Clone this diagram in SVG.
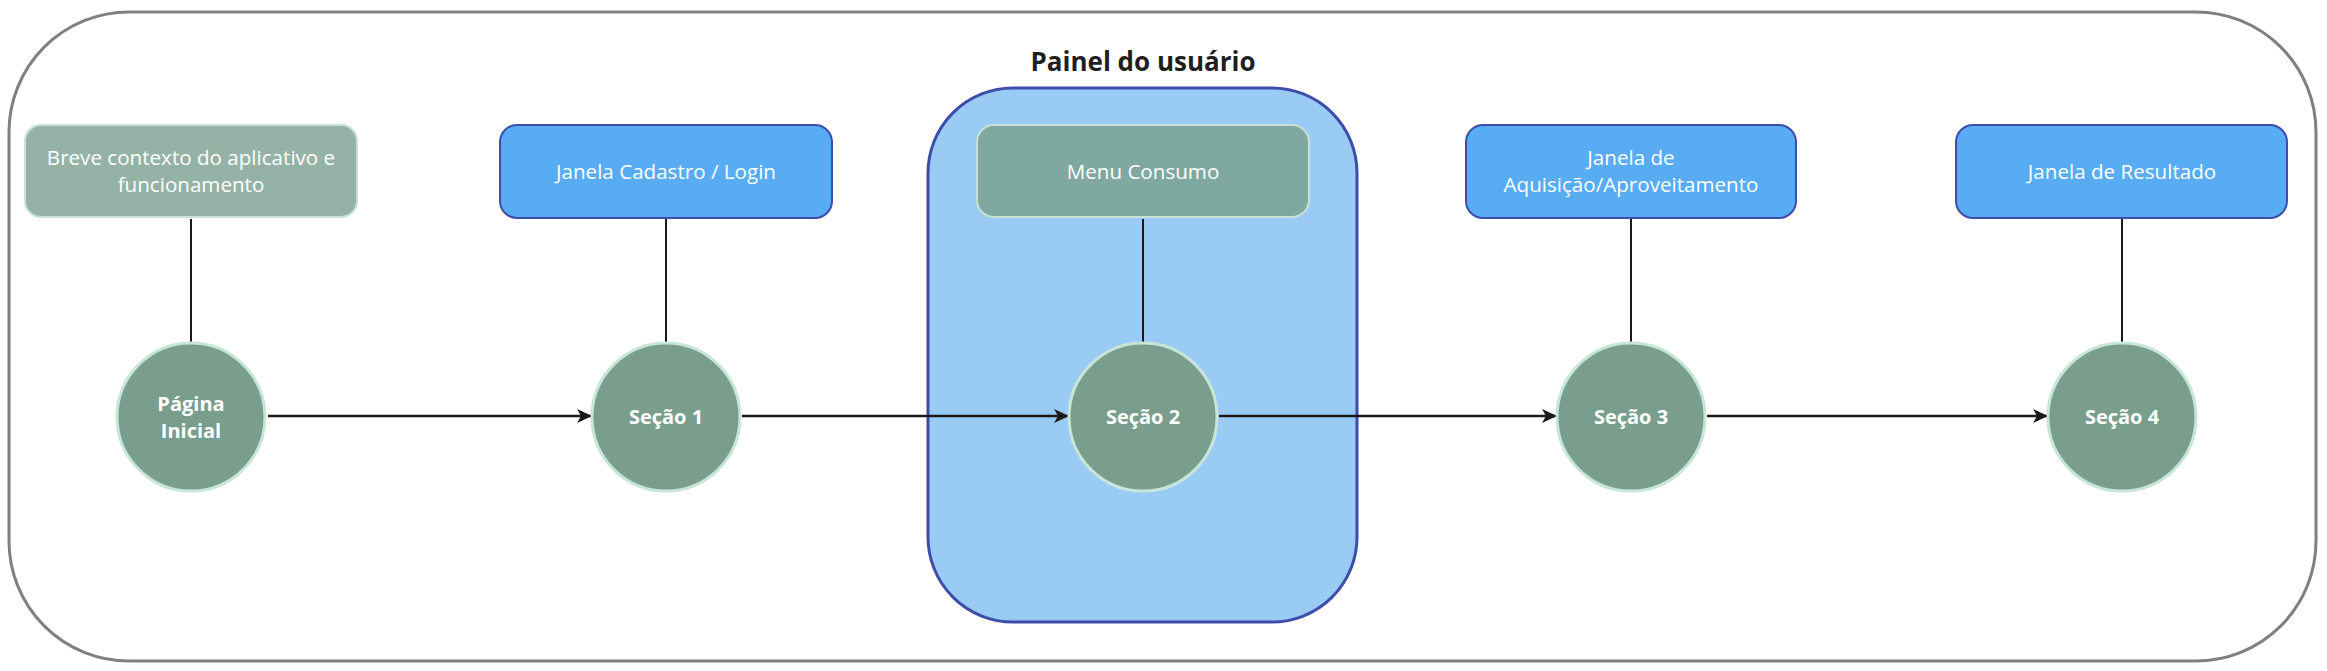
<svg xmlns="http://www.w3.org/2000/svg" width="2327" height="671" viewBox="0 0 2327 671">
<style>
.frame{fill:#ffffff;stroke:#808080;stroke-width:3}
.panel{fill:#99CBF4;stroke:#3D4DAA;stroke-width:3}
.gbox{fill:#94B3A6;stroke:#C8E0D5;stroke-width:2}
.mbox{fill:#7FA8A0;stroke:#C8E0D5;stroke-width:2}
.bbox{fill:#57ACF3;stroke:#3D4DAA;stroke-width:2}
.circ{fill:#7A9E8E;stroke:#C8E6D8;stroke-width:3}
.t{font-family:"Open Sans","Noto Sans",sans-serif;font-size:20.6px;fill:#ffffff;text-anchor:middle}
.tb{font-family:"Open Sans","Noto Sans",sans-serif;font-size:20px;font-weight:bold;fill:#ffffff;text-anchor:middle}
.title{font-family:"Open Sans","Noto Sans",sans-serif;font-size:26px;font-weight:bold;fill:#1f1f1f;text-anchor:middle}
.v{stroke:#1a1a1a;stroke-width:2;fill:none}
.h{stroke:#1a1a1a;stroke-width:2.5;fill:none;marker-end:url(#arr)}
</style>
<defs>
<marker id="arr" viewBox="0 0 16 16" refX="15" refY="8" markerWidth="16" markerHeight="16" markerUnits="userSpaceOnUse" orient="auto">
<path d="M0,1 L15,8 L0,15 L4,8 Z" fill="#1a1a1a"/>
</marker>
</defs>
<g id="frame"><rect class="frame" x="9" y="12" width="2307" height="649" rx="120" ry="120"/></g>
<g id="painel">
<rect class="panel" x="928" y="88" width="429" height="534" rx="85" ry="85"/>
<text class="title" x="1143" y="71">Painel do usuário</text>
</g>
<g id="connectors">
<line class="v" x1="191" y1="219" x2="191" y2="342"/>
<line class="v" x1="666" y1="219" x2="666" y2="342"/>
<line class="v" x1="1143" y1="219" x2="1143" y2="342"/>
<line class="v" x1="1631" y1="219" x2="1631" y2="342"/>
<line class="v" x1="2122" y1="219" x2="2122" y2="342"/>
<line class="h" x1="268" y1="416" x2="592" y2="416"/>
<line class="h" x1="742" y1="416" x2="1069" y2="416"/>
<line class="h" x1="1219" y1="416" x2="1557" y2="416"/>
<line class="h" x1="1707" y1="416" x2="2048" y2="416"/>
</g>
<g id="box-breve">
<rect class="gbox" x="25" y="125" width="332" height="92" rx="16" ry="16"/>
<text class="t" x="191" y="165">Breve contexto do aplicativo e</text>
<text class="t" x="191" y="192">funcionamento</text>
</g>
<g id="box-cadastro">
<rect class="bbox" x="500" y="125" width="332" height="93" rx="17" ry="17"/>
<text class="t" x="666" y="179">Janela Cadastro / Login</text>
</g>
<g id="box-menu">
<rect class="mbox" x="977" y="125" width="332" height="92" rx="17" ry="17"/>
<text class="t" x="1143" y="179">Menu Consumo</text>
</g>
<g id="box-aquisicao">
<rect class="bbox" x="1466" y="125" width="330" height="93" rx="17" ry="17"/>
<text class="t" x="1631" y="165">Janela de</text>
<text class="t" x="1631" y="192">Aquisição/Aproveitamento</text>
</g>
<g id="box-resultado">
<rect class="bbox" x="1956" y="125" width="331" height="93" rx="17" ry="17"/>
<text class="t" x="2122" y="179">Janela de Resultado</text>
</g>
<g id="pagina-inicial">
<circle class="circ" cx="191" cy="417" r="74"/>
<text class="tb" x="191" y="411">Página</text>
<text class="tb" x="191" y="438">Inicial</text>
</g>
<g id="secao1">
<circle class="circ" cx="666" cy="417" r="74"/>
<text class="tb" x="666" y="424">Seção 1</text>
</g>
<g id="secao2">
<circle class="circ" cx="1143" cy="417" r="74"/>
<text class="tb" x="1143" y="424">Seção 2</text>
</g>
<g id="secao3">
<circle class="circ" cx="1631" cy="417" r="74"/>
<text class="tb" x="1631" y="424">Seção 3</text>
</g>
<g id="secao4">
<circle class="circ" cx="2122" cy="417" r="74"/>
<text class="tb" x="2122" y="424">Seção 4</text>
</g>
</svg>
